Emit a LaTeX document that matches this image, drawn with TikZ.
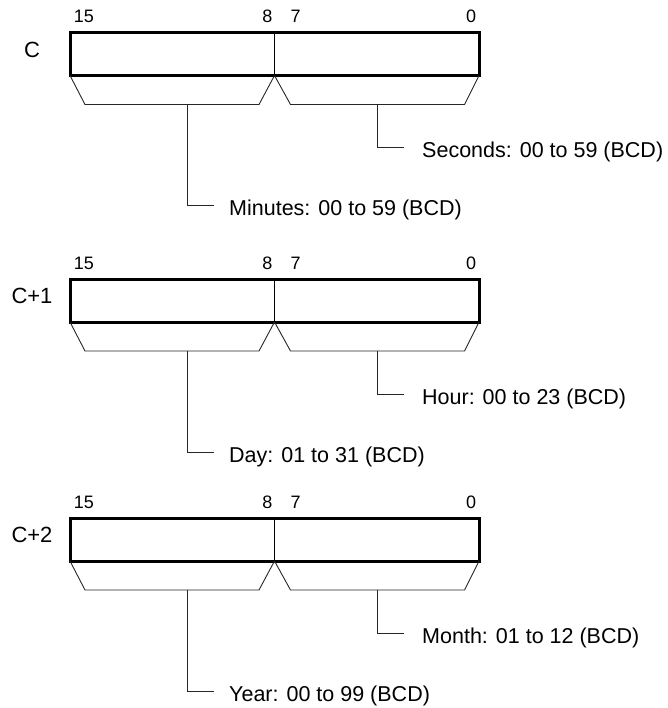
\documentclass[tikz,border=0pt]{standalone}
\usepackage{fontspec}
\setmainfont{Liberation Sans}
\usetikzlibrary{positioning}

\begin{document}
\begin{tikzpicture}[
    x=1pt,y=-1pt,
    half/.style={draw, line width=0.9pt, minimum width=204.5pt, minimum height=43pt, inner sep=0pt, outer sep=0pt, anchor=north west},
    frame/.style={line width=3pt, line join=miter},
    brace/.style={line width=0.9pt, draw=black!85},
    bit/.style={font=\fontsize{18}{20}\selectfont, inner sep=0pt},
    word/.style={font=\fontsize{22}{26}\selectfont, inner sep=0pt},
    field/.style={font=\fontsize{21.5}{25}\selectfont, anchor=base west, inner sep=0pt}
  ]
    \useasboundingbox (0,0) rectangle (667,708);
    \foreach \n/\t/\reg/\hi/\lo in {1/32.5/C/Minutes: 00 to 59 (BCD)/Seconds: 00 to 59 (BCD),
                                    2/279/C+1/Day: 01 to 31 (BCD)/Hour: 00 to 23 (BCD),
                                    3/518/C+2/Year: 00 to 99 (BCD)/Month: 01 to 12 (BCD)} {
      % word: upper and lower byte
      \node[half] (hi\n) at (70,\t) {};
      \node[half, right=0pt of hi\n] (lo\n) {};
      \draw[frame] (hi\n.north west) rectangle (lo\n.south east);
      \node[word] (reg\n) at (32,\t+17) {\reg};
      % bit numbers
      \node[bit] (b15\n) at ([xshift=14pt,yshift=16pt]hi\n.north west) {15};
      \node[bit] (b8\n) at ([xshift=-7pt,yshift=16pt]hi\n.north east) {8};
      \node[bit] (b7\n) at ([xshift=21pt,yshift=16pt]lo\n.north west) {7};
      \node[bit] (b0\n) at ([xshift=-8pt,yshift=16pt]lo\n.north east) {0};
      % braces under each byte
      \draw[brace] (hi\n.south west) -- ++(15,29) -- ++(102,0) coordinate (hs\n) -- ++(72,0) -- (hi\n.south east);
      \draw[brace] (lo\n.south west) -- ++(16,29) -- ++(87,0) coordinate (ls\n) -- ++(87,0) -- (lo\n.south east);
      % field labels
      \coordinate (le\n) at (404,\t+115);
      \coordinate (he\n) at (214,\t+173);
      \node[field] (lf\n) at ([xshift=18pt,yshift=-10.5pt]le\n) {\lo};
      \node[field] (hf\n) at ([xshift=15pt,yshift=-10.5pt]he\n) {\hi};
      \draw[brace] (ls\n) |- (le\n);
      \draw[brace] (hs\n) |- (he\n);
    }
  \end{tikzpicture}
\end{document}
